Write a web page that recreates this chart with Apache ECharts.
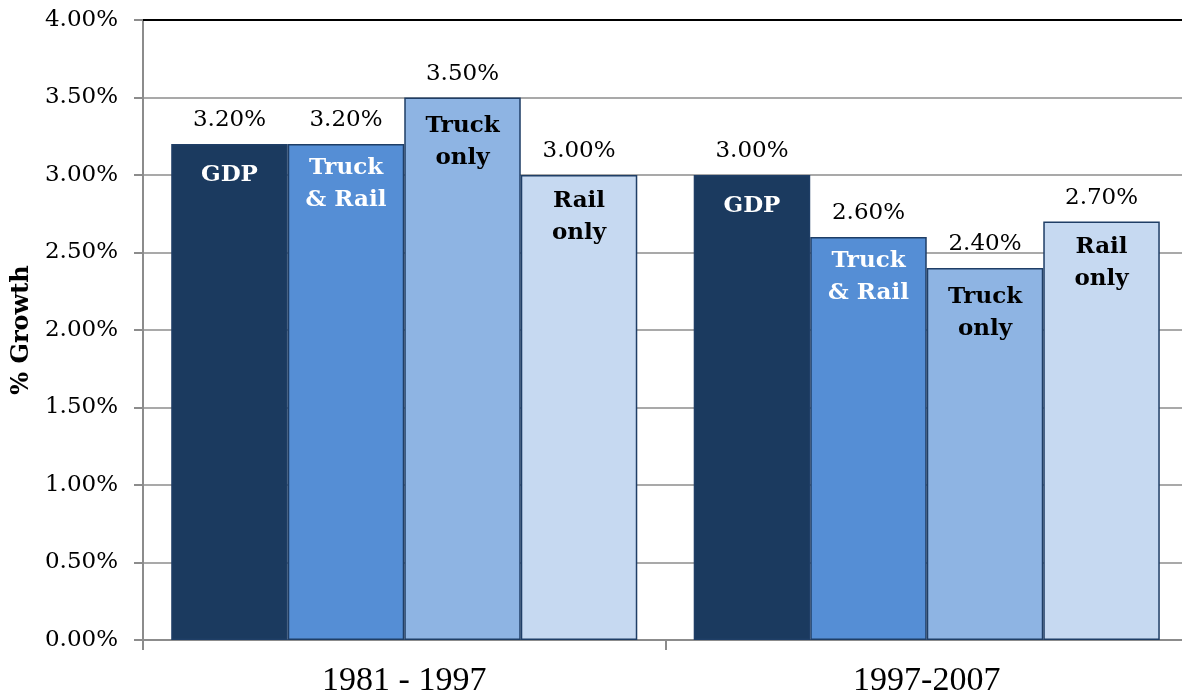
<!DOCTYPE html>
<html>
<head>
<meta charset="utf-8">
<script src="https://cdn.jsdelivr.net/npm/echarts@6/dist/echarts.min.js"></script>
<style>
  html, body { margin: 0; padding: 0; background: #fff; }
  #chart { width: 1182px; height: 694px; }
</style>
</head>
<body>
<div id="chart"></div>
<script>
// Periods on the category axis
const periods = ['1981 - 1997', '1997-2007'];

// Annual growth rates (%) for each measure
const gdp = [3.2, 3.0];
const truckRail = [3.2, 2.6];
const truckOnly = [3.5, 2.4];
const railOnly = [3.0, 2.7];

// Names printed inside the bars
const seriesNames = ['GDP', 'Truck\n& Rail', 'Truck\nonly', 'Rail\nonly'];

// Y axis range and step (percent)
const yMin = 0;
const yMax = 4;
const yStep = 0.5;

const serifFont = 'DejaVu Serif';
const fills = ['#1b3a5f', '#558ed5', '#8eb4e3', '#c6d9f1'];
const nameColors = ['#ffffff', '#ffffff', '#000000', '#000000'];
const nameDistance = [15, 8, 13, 10];
const allValues = [gdp, truckRail, truckOnly, railOnly];

const series = [];
allValues.forEach(function (vals, i) {
  const stackKey = 'group' + i;
  // The bar itself, with its name at the top inside
  series.push({
    type: 'bar',
    name: seriesNames[i].replace('\n', ' '),
    stack: stackKey,
    data: vals,
    barGap: '0%',
    barCategoryGap: '10.8%',
    itemStyle: { color: fills[i], borderColor: '#1f3e66', borderWidth: 1.5 },
    label: {
      show: true,
      position: 'insideTop',
      distance: nameDistance[i],
      formatter: seriesNames[i],
      fontFamily: serifFont,
      fontWeight: 'bold',
      fontSize: 23,
      lineHeight: 32,
      color: nameColors[i],
      align: 'center'
    },
    emphasis: { disabled: true }
  });
  // Zero-height cap in the same stack, carrying the value label above the bar
  series.push({
    type: 'bar',
    stack: stackKey,
    data: vals.map(function () { return 0; }),
    barGap: '0%',
    barCategoryGap: '10.8%',
    itemStyle: { color: 'rgba(0,0,0,0)', borderWidth: 0 },
    label: {
      show: true,
      position: 'top',
      distance: 12,
      formatter: function (p) { return vals[p.dataIndex].toFixed(2) + '%'; },
      fontFamily: serifFont,
      fontSize: 23,
      color: '#000'
    },
    emphasis: { disabled: true },
    silent: true
  });
});

const chart = echarts.init(document.getElementById('chart'), null, { renderer: 'canvas' });
chart.setOption({
  animation: false,
  backgroundColor: '#ffffff',
  // Plot area runs slightly past the right edge of the canvas
  grid: {
    left: 143, width: 1045, top: 20, bottom: 54,
    containLabel: false,
    outerBoundsMode: 'none'
  },
  xAxis: [
    {
      type: 'category',
      data: periods,
      position: 'bottom',
      axisLine: { show: true, lineStyle: { color: '#8c8c8c', width: 2 } },
      axisTick: { show: true, length: 10, lineStyle: { color: '#8c8c8c', width: 2 } },
      axisLabel: { fontFamily: 'Liberation Serif', fontSize: 34, color: '#000', margin: 24 },
      splitLine: { show: false }
    },
    {
      type: 'category',
      data: periods,
      position: 'top',
      axisLine: { show: true, lineStyle: { color: '#000', width: 2 } },
      axisTick: { show: false },
      axisLabel: { show: false },
      splitLine: { show: false }
    }
  ],
  yAxis: {
    type: 'value',
    min: yMin,
    max: yMax,
    interval: yStep,
    name: '% Growth',
    nameLocation: 'middle',
    nameGap: 108,
    nameRotate: 90,
    nameTextStyle: { fontFamily: serifFont, fontWeight: 'bold', fontSize: 24, color: '#000' },
    axisLine: { show: true, lineStyle: { color: '#8c8c8c', width: 2 } },
    axisTick: { show: true, length: 9, lineStyle: { color: '#8c8c8c', width: 2 } },
    axisLabel: {
      fontFamily: serifFont,
      fontSize: 23,
      color: '#000',
      margin: 25,
      formatter: function (v) { return v.toFixed(2) + '%'; }
    },
    splitLine: { show: true, lineStyle: { color: '#8c8c8c', width: 1.5 } }
  },
  series: series
});
</script>
</body>
</html>
